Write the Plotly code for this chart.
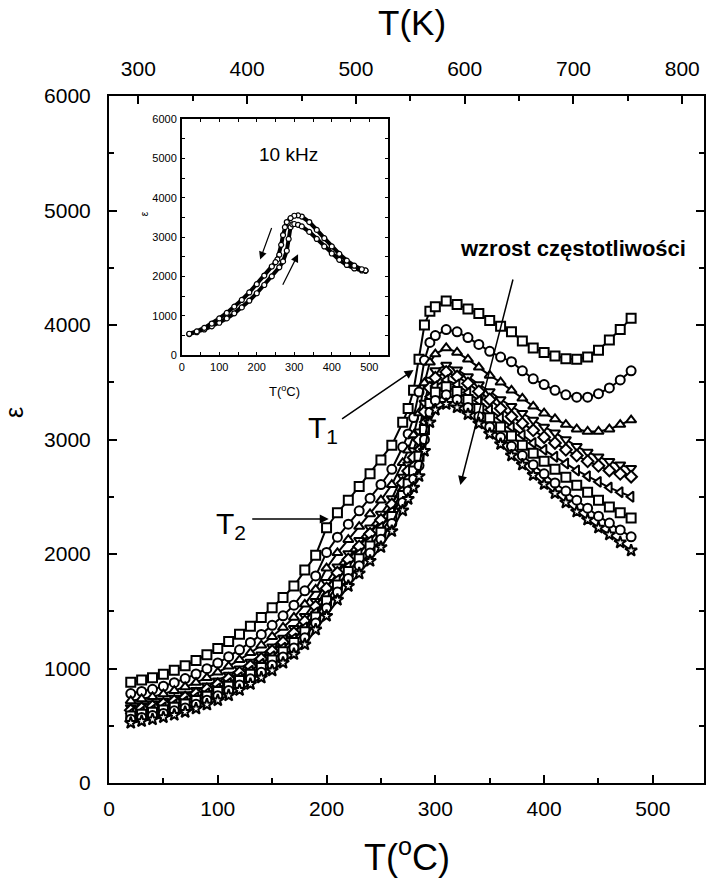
import plotly.graph_objects as go

# ---------------- data ----------------
T_main = [20, 30, 40, 50, 60, 70, 80, 90, 100, 110, 120, 130, 140, 150, 160, 170, 180, 190,
          200, 210, 220, 230, 240, 250, 260, 270, 275, 280, 285, 290, 295, 300, 310, 320,
          330, 340, 350, 360, 370, 380, 390, 400, 410, 420, 430, 440, 450, 460, 470, 480]

eps_c1 = [880, 900, 920, 950, 985, 1025, 1070, 1120, 1175, 1235, 1300, 1370, 1445, 1530, 1620, 1720, 1860, 1990,
          2230, 2360, 2470, 2590, 2700, 2820, 2950, 3150, 3270, 3430, 3700, 4000, 4120, 4160, 4210, 4180,
          4140, 4100, 4040, 3990, 3940, 3860, 3800, 3760, 3730, 3705, 3700, 3720, 3780, 3870, 3960, 4060]
eps_c2 = [781, 799, 818, 845, 876, 912, 952, 998, 1048, 1103, 1163, 1228, 1298, 1377, 1460, 1553, 1678, 1808,
          2014, 2147, 2260, 2377, 2487, 2607, 2740, 2934, 3049, 3192, 3414, 3692, 3848, 3908, 3960, 3940,
          3890, 3830, 3770, 3720, 3680, 3600, 3530, 3480, 3430, 3390, 3370, 3370, 3400, 3450, 3520, 3600]
eps_c3 = [717, 734, 753, 777, 806, 839, 877, 919, 967, 1019, 1076, 1137, 1203, 1278, 1358, 1446, 1561, 1691,
          1876, 2010, 2125, 2240, 2350, 2470, 2605, 2796, 2907, 3039, 3231, 3494, 3674, 3746, 3800, 3760,
          3700, 3630, 3560, 3500, 3430, 3360, 3290, 3230, 3180, 3130, 3090, 3070, 3070, 3090, 3130, 3170]
eps_c4 = [660, 677, 694, 717, 743, 774, 810, 850, 894, 944, 997, 1056, 1119, 1190, 1267, 1351, 1457, 1587,
          1753, 1889, 2005, 2119, 2229, 2349, 2485, 2673, 2780, 2903, 3068, 3318, 3519, 3602, 3650, 3610,
          3550, 3480, 3420, 3350, 3290, 3230, 3170, 3110, 3060, 3000, 2940, 2890, 2850, 2810, 2780, 2750]
eps_c5 = [635, 652, 669, 691, 716, 746, 780, 819, 862, 911, 963, 1021, 1083, 1152, 1227, 1309, 1411, 1541,
          1699, 1836, 1952, 2066, 2176, 2296, 2432, 2619, 2725, 2843, 2996, 3241, 3451, 3539, 3590, 3550,
          3490, 3420, 3350, 3270, 3200, 3140, 3080, 3020, 2970, 2910, 2860, 2810, 2770, 2730, 2700, 2675]
eps_c6 = [607, 623, 640, 660, 685, 713, 747, 784, 826, 873, 924, 980, 1041, 1108, 1181, 1262, 1359, 1489,
          1637, 1775, 1892, 2005, 2115, 2235, 2372, 2557, 2662, 2775, 2915, 3153, 3373, 3467, 3520, 3480,
          3410, 3340, 3260, 3190, 3110, 3040, 2970, 2910, 2850, 2790, 2730, 2680, 2630, 2580, 2540, 2500]
eps_c7 = [585, 601, 618, 638, 661, 689, 721, 758, 799, 845, 895, 950, 1009, 1075, 1147, 1226, 1320, 1450,
          1591, 1729, 1847, 1959, 2069, 2189, 2327, 2511, 2614, 2724, 2853, 3087, 3315, 3413, 3460, 3420,
          3350, 3270, 3190, 3110, 3030, 2950, 2880, 2810, 2740, 2670, 2600, 2540, 2470, 2410, 2360, 2315]
eps_c8 = [557, 572, 589, 608, 630, 656, 688, 723, 763, 807, 856, 910, 967, 1031, 1101, 1179, 1268, 1398,
          1529, 1668, 1787, 1898, 2008, 2128, 2267, 2449, 2551, 2656, 2772, 2999, 3237, 3341, 3390, 3350,
          3280, 3200, 3110, 3020, 2940, 2860, 2780, 2700, 2620, 2550, 2470, 2400, 2330, 2270, 2210, 2150]
eps_c9 = [525, 540, 556, 574, 595, 620, 650, 684, 722, 765, 812, 864, 920, 982, 1050, 1125, 1210, 1340,
          1460, 1600, 1720, 1830, 1940, 2060, 2200, 2380, 2480, 2580, 2680, 2900, 3150, 3260, 3310, 3280,
          3220, 3140, 3050, 2960, 2860, 2780, 2690, 2610, 2530, 2450, 2370, 2300, 2230, 2170, 2100, 2030]

series = [eps_c1, eps_c2, eps_c3, eps_c4, eps_c5, eps_c6, eps_c7, eps_c8, eps_c9]
symbols = ["square", "circle", "triangle-up", "triangle-down", "diamond",
           "triangle-left", "square", "circle", "star"]

# inset (10 kHz, heating / cooling)
heat_T = [20, 40, 60, 80, 100, 120, 140, 160, 180, 200, 220, 240, 260, 270, 280, 285, 290, 295, 300,
          310, 320, 340, 360, 380, 400, 420, 440, 460, 480, 490]
heat_eps = [530, 580, 650, 730, 820, 930, 1060, 1210, 1380, 1570, 1780, 2000, 2230, 2380, 2650, 2950, 3250,
            3320, 3330, 3310, 3270, 3130, 2950, 2760, 2580, 2420, 2290, 2200, 2150, 2140]
cool_T = [490, 480, 460, 440, 420, 400, 380, 360, 340, 320, 310, 300, 290, 280, 275, 270, 265, 260, 255,
          250, 240, 220, 200, 180, 160, 140, 120, 100, 80, 60, 40, 20]
cool_eps = [2150, 2180, 2270, 2400, 2570, 2760, 2970, 3180, 3380, 3520, 3550, 3540, 3480, 3380, 3250, 3050,
            2800, 2550, 2430, 2360, 2250, 2020, 1800, 1590, 1400, 1230, 1070, 930, 800, 690, 600, 540]

x_ticks_C = [0, 100, 200, 300, 400, 500]
x_ticks_K = [300, 400, 500, 600, 700, 800]
y_ticks = [0, 1000, 2000, 3000, 4000, 5000, 6000]

# ---------------- figure ----------------
FONT = "Arial, Liberation Sans, Helvetica, sans-serif"
fig = go.Figure()

for vals, sym in zip(series, symbols):
    fig.add_trace(go.Scatter(
        x=T_main, y=vals, mode="lines+markers", xaxis="x", yaxis="y",
        line=dict(color="black", width=2),
        marker=dict(symbol=sym, size=9, color="white", line=dict(color="black", width=2)),
        showlegend=False, hoverinfo="skip"))

# invisible trace to activate top axis
fig.add_trace(go.Scatter(x=[x_ticks_K[0]], y=[None], xaxis="x2", yaxis="y",
                         mode="markers", marker=dict(opacity=0), showlegend=False, hoverinfo="skip"))

for tx, ty in [(heat_T, heat_eps), (cool_T, cool_eps)]:
    fig.add_trace(go.Scatter(
        x=tx, y=ty, mode="lines+markers", xaxis="x3", yaxis="y3",
        line=dict(color="black", width=4),
        marker=dict(symbol="circle", size=5, color="white", line=dict(color="black", width=1.2)),
        showlegend=False, hoverinfo="skip"))

axis_common = dict(showgrid=False, zeroline=False, showline=True, linecolor="black", linewidth=2,
                   ticks="inside", tickcolor="black", tickwidth=1.5, ticklen=8,
                   tickfont=dict(family=FONT, size=21, color="black"))

xmax = 547
fig.update_layout(
    width=706, height=879,
    margin=dict(l=109, r=0, t=96, b=96),
    paper_bgcolor="white", plot_bgcolor="white",
    font=dict(family=FONT, color="black"),
    xaxis=dict(range=[0, xmax], tickvals=x_ticks_C, anchor="y", side="bottom",
               minor=dict(dtick=50, ticks="inside", ticklen=5, tickcolor="black", tickwidth=1.5),
               ticklabelstandoff=6, **axis_common),
    xaxis2=dict(range=[273, 273 + xmax], tickvals=x_ticks_K, overlaying="x", side="top", anchor="y",
                minor=dict(dtick=50, ticks="inside", ticklen=5, tickcolor="black", tickwidth=1.5),
                ticklabelstandoff=10, **axis_common),
    yaxis=dict(range=[0, 6000], tickvals=y_ticks, anchor="x", mirror="ticks",
               minor=dict(dtick=500, ticks="inside", ticklen=5, tickcolor="black", tickwidth=1.5),
               ticklabelstandoff=12, **axis_common),
    xaxis3=dict(domain=[0.1223, 0.469], range=[0, 550], anchor="y3", tickvals=x_ticks_C,
                showgrid=False, zeroline=False, showline=True, linecolor="black", linewidth=1.5,
                mirror="ticks", ticks="inside", ticklen=3, tickwidth=1, tickcolor="black",
                minor=dict(dtick=50, ticks="inside", ticklen=3, tickcolor="black"),
                tickfont=dict(family=FONT, size=11, color="black"), ticklabelstandoff=1),
    yaxis3=dict(domain=[0.623, 0.9665], range=[0, 6000], anchor="x3", tickvals=y_ticks,
                showgrid=False, zeroline=False, showline=True, linecolor="black", linewidth=1.5,
                mirror="ticks", ticks="inside", ticklen=3, tickwidth=1, tickcolor="black",
                minor=dict(dtick=500, ticks="inside", ticklen=3, tickcolor="black"),
                tickfont=dict(family=FONT, size=11, color="black"), ticklabelstandoff=1),
)

ann = []
# axis titles
ann.append(dict(text="T(K)", xref="paper", yref="paper", x=0.51, y=1, yshift=74, showarrow=False,
                font=dict(size=35), xanchor="center", yanchor="middle"))
ann.append(dict(text="T(<sup>o</sup>C)", xref="paper", yref="paper", x=0.5, y=0, yshift=-72, showarrow=False,
                font=dict(size=36), xanchor="center", yanchor="middle"))
ann.append(dict(text="ε", xref="paper", yref="paper", x=0, xshift=-95, y=0.5386, showarrow=False,
                font=dict(size=25), textangle=-90, xanchor="center", yanchor="middle"))
# inset titles
ann.append(dict(text="T(<sup>o</sup>C)", xref="x3 domain", yref="y3 domain", x=0.5, y=0, yshift=-36,
                showarrow=False, font=dict(size=13), xanchor="center", yanchor="middle"))
ann.append(dict(text="ε", xref="x3 domain", yref="y3 domain", x=0, xshift=-37, y=0.6,
                showarrow=False, font=dict(size=10), textangle=-90, xanchor="center", yanchor="middle"))
ann.append(dict(text="10 kHz", xref="x3", yref="y3", x=284, y=5100, showarrow=False,
                font=dict(size=19), xanchor="center", yanchor="middle"))
# inset arrows
ann.append(dict(x=209, y=2430, xref="x3", yref="y3", ax=12, ay=-33, showarrow=True, text="",
                arrowhead=2, arrowsize=1.3, arrowwidth=1.2, arrowcolor="black"))
ann.append(dict(x=310, y=2560, xref="x3", yref="y3", ax=-16, ay=32, showarrow=True, text="",
                arrowhead=2, arrowsize=1.3, arrowwidth=1.2, arrowcolor="black"))
# main annotations
ann.append(dict(text="<b>wzrost częstotliwości</b>", xref="x", yref="y", x=427, y=4672, showarrow=False,
                font=dict(size=22), xanchor="center", yanchor="middle"))
ann.append(dict(x=323, y=2603, xref="x", yref="y", ax=53, ay=-207, showarrow=True, text="",
                arrowhead=2, arrowsize=1.2, arrowwidth=1.5, arrowcolor="black"))
ann.append(dict(text="T<sub>1</sub>", xref="x", yref="y", x=197, y=3090, showarrow=False,
                font=dict(size=30), xanchor="center", yanchor="middle"))
ann.append(dict(x=280, y=3607, xref="x", yref="y", ax=-73, ay=50, showarrow=True, text="",
                arrowhead=2, arrowsize=1.2, arrowwidth=1.5, arrowcolor="black"))
ann.append(dict(text="T<sub>2</sub>", xref="x", yref="y", x=112, y=2250, showarrow=False,
                font=dict(size=30), xanchor="center", yanchor="middle"))
ann.append(dict(x=202, y=2306, xref="x", yref="y", ax=-78, ay=0, showarrow=True, text="",
                arrowhead=2, arrowsize=1.2, arrowwidth=1.5, arrowcolor="black"))

fig.update_layout(annotations=ann)
fig.write_html("out.html")
